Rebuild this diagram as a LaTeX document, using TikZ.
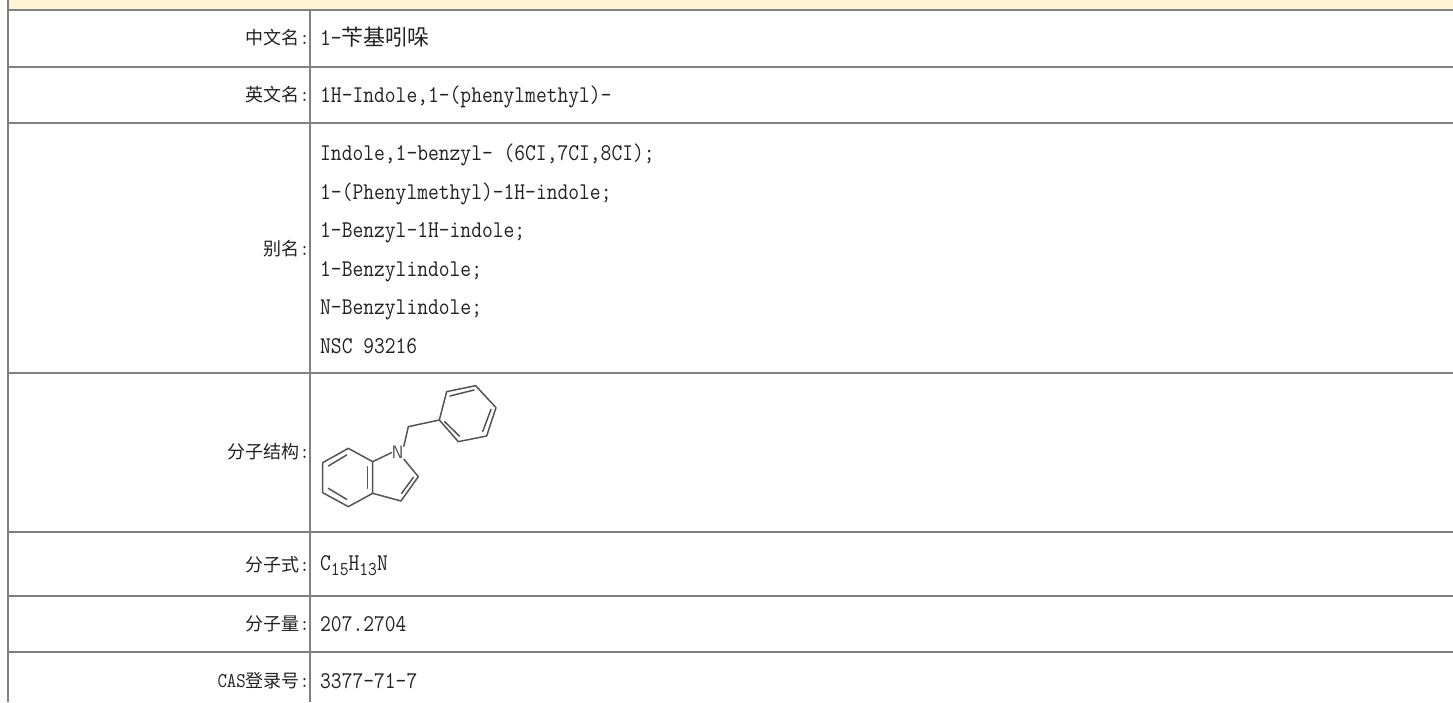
\documentclass[tikz,border=0pt]{standalone}
\usepackage{fontspec}
\newfontfamily\cjk{Noto Sans CJK SC}
\newfontfamily\monof[FakeStretch=0.873]{Latin Modern Mono}
\newcommand{\valf}{\fontsize{24}{24}\selectfont\monof}
\newcommand{\labm}{\fontsize{21}{21}\selectfont\monof}
\newcommand{\subt}[1]{\raisebox{-5pt}{\fontsize{19.6}{20}\selectfont\monof #1}}
\begin{document}
\begin{tikzpicture}[x=1pt,y=-1pt,
  grid/.style={draw=gridgray,line width=2pt},
  lab/.style={anchor=east,inner sep=0pt,font=\fontsize{18}{18}\selectfont\cjk,text=txt},
  val/.style={anchor=base west,inner sep=0pt,font=\valf,text=txt},
  bond/.style={draw=bondc,line width=1.5pt,line cap=round,line join=round}]
\definecolor{gridgray}{HTML}{808080}
\definecolor{band}{HTML}{FFF4D6}
\definecolor{txt}{HTML}{222222}
\definecolor{bondc}{HTML}{555555}
\useasboundingbox (0,0) rectangle (1453,702);
\fill[white] (0,0) rectangle (1453,702);
\fill[band] (8,0) rectangle (1453,10);
% grid
\draw[grid] (8,0) -- (8,702);
\draw[grid] (310,10) -- (310,702);
\foreach \y in {10,67,123,373,532,596,652} {\draw[grid] (7,\y) -- (1453,\y);}
% labels
\node[lab] (l1) at (309.5,38) {中文名{\labm :}};
\node[lab] (l2) at (309.5,95) {英文名{\labm :}};
\node[lab] (l3) at (309.5,249) {别名{\labm :}};
\node[lab] (l4) at (309.5,452) {分子结构{\labm :}};
\node[lab] (l5) at (309.5,565) {分子式{\labm :}};
\node[lab] (l6) at (309.5,624) {分子量{\labm :}};
\node[lab] (l7) at (309.5,681) {{\labm CAS}登录号{\labm :}};
% values
\node[val] (v1) at (320,45) {1-{\cjk\fontsize{22}{22}\selectfont 苄基吲哚}};
\node[val] (v2) at (320,102) {1H-Indole,1-(phenylmethyl)-};
\node[val] (a1) at (320,160) {Indole,1-benzyl- (6CI,7CI,8CI);};
\node[val] (a2) at (320,199) {1-(Phenylmethyl)-1H-indole;};
\node[val] (a3) at (320,237) {1-Benzyl-1H-indole;};
\node[val] (a4) at (320,276) {1-Benzylindole;};
\node[val] (a5) at (320,314) {N-Benzylindole;};
\node[val] (a6) at (320,353) {NSC 93216};
\node[val] (v5) at (320,570) {C\subt{15}H\subt{13}N};
\node[val] (v6) at (320,631) {207.2704};
\node[val] (v7) at (320,688) {3377-71-7};
% molecule (coordinates are in 3x zoom pixels)
\begin{scope}[shift={(300,360)},x=0.3333pt,y=-0.3333pt]
 \coordinate (b1) at (145,265); \coordinate (b2) at (68,308); \coordinate (b3) at (68,398);
 \coordinate (b4) at (145,440); \coordinate (b5) at (218,400); \coordinate (b6) at (218,305);
 \coordinate (c2) at (355,350); \coordinate (c3) at (303,423);
 \coordinate (ch) at (325,200);
 \coordinate (p1) at (418,180); \coordinate (p2) at (440,95); \coordinate (p3) at (527,77);
 \coordinate (p4) at (588,143); \coordinate (p5) at (560,228); \coordinate (p6) at (475,245);
 \node[inner sep=0pt,font=\fontsize{18}{18}\selectfont\sffamily,text=bondc] (nn) at (293,278) {N};
 \draw[bond] (b6) -- (b1) -- (b2) -- (b3) -- (b4) -- (b5) -- (b6);
 \draw[bond] (b6) -- (nn.west);
 \draw[bond] (nn.south east) -- (c2) -- (c3) -- (b5);
 \draw[bond] (nn.north east) -- (ch) -- (p1) -- (p2) -- (p3) -- (p4) -- (p5) -- (p6) -- (p1);
 \draw[bond] (85,318) -- (140,285);
 \draw[bond] (85,385) -- (140,418);
 \draw[bond] (203,320) -- (203,385);
 \draw[bond] (305,400) -- (340,352);
 \draw[bond] (450,108) -- (522,90);
 \draw[bond] (573,148) -- (548,215);
 \draw[bond] (478,228) -- (434,185);
\end{scope}
\end{tikzpicture}
\end{document}
